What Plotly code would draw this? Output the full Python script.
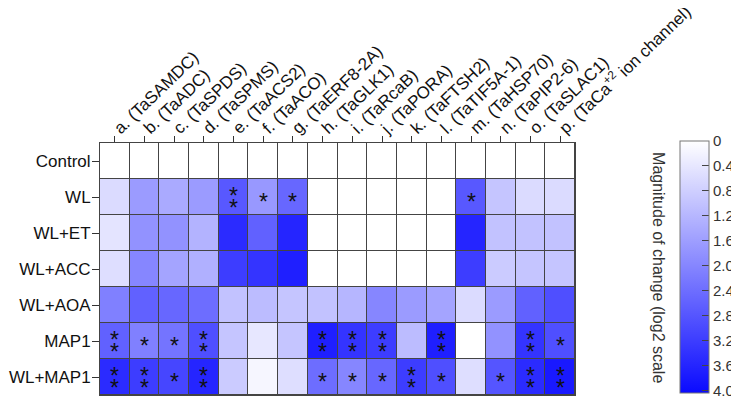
import plotly.graph_objects as go

genes = ["a. (TaSAMDC)", "b. (TaADC)", "c. (TaSPDS)", "d. (TaSPMS)", "e. (TaACS2)",
         "f. (TaACO)", "g. (TaERF8-2A)", "h. (TaGLK1)", "i. (TaRcaB)", "j. (TaPORA)",
         "k. (TaFTSH2)", "l. (TaTIF5A-1)", "m. (TaHSP70)", "n. (TaPIP2-6)", "o. (TaSLAC1)",
         "p. (TaCa<sup>+2</sup> ion channel)"]
treatments = ["Control", "WL", "WL+ET", "WL+ACC", "WL+AOA", "MAP1", "WL+MAP1"]

control = [0]*16
wl      = [0.6, 1.65, 1.4, 1.65, 2.75, 1.7, 2.5, 0, 0, 0, 0, 0, 2.75, 0.95, 0.6, 0.6]
wl_et   = [0.45, 1.8, 1.8, 1.25, 3.5, 2.6, 3.6, 0, 0, 0, 0, 0, 3.6, 1.0, 1.0, 1.0]
wl_acc  = [0.55, 2.0, 1.5, 1.3, 3.2, 3.35, 3.7, 0, 0, 0, 0, 0, 3.2, 0.85, 0.95, 0.95]
wl_aoa  = [2.1, 2.6, 2.5, 2.4, 1.0, 1.1, 0.95, 1.0, 1.2, 2.0, 1.65, 1.5, 0.6, 1.65, 2.6, 2.9]
map1    = [2.6, 2.1, 2.3, 2.9, 0.95, 0.4, 0.95, 3.7, 3.35, 3.2, 1.1, 3.7, 0, 1.8, 3.35, 2.9]
wl_map1 = [3.5, 3.2, 3.05, 3.6, 0.85, 0.15, 0.55, 2.4, 2.0, 2.5, 3.2, 2.9, 0.55, 2.8, 3.5, 3.8]

sig_control = [""]*16
sig_wl      = ["", "", "", "", "**", "*", "*", "", "", "", "", "", "*", "", "", ""]
sig_wl_et   = [""]*16
sig_wl_acc  = [""]*16
sig_wl_aoa  = [""]*16
sig_map1    = ["**", "*", "*", "**", "", "", "", "**", "**", "**", "", "**", "", "", "**", "*"]
sig_wl_map1 = ["**", "**", "*", "**", "", "", "", "*", "*", "*", "**", "*", "", "*", "**", "**"]

cbar_ticks = [0, 0.4, 0.8, 1.2, 1.6, 2.0, 2.4, 2.8, 3.2, 3.6, 4.0]
cbar_labels = ["0", "0.4", "0.8", "1.2", "1.6", "2.0", "2.4", "2.8", "3.2", "3.6", "4.0"]

values = [control, wl, wl_et, wl_acc, wl_aoa, map1, wl_map1]
sigs = [sig_control, sig_wl, sig_wl_et, sig_wl_acc, sig_wl_aoa, sig_map1, sig_wl_map1]

FONT = "Liberation Sans, Arial, sans-serif"

# negate so that the native colorbar shows 0 (white) at the top
zneg = [[-v for v in row] for row in values]

fig = go.Figure(go.Heatmap(
    z=zneg, x=genes, y=treatments,
    zmin=-4.04, zmax=0,
    colorscale=[[0, "rgb(10,10,255)"], [1, "rgb(255,255,255)"]],
    xgap=1, ygap=1,
    hovertemplate="%{y} / %{x}<extra></extra>",
    colorbar=dict(
        tickvals=[-t for t in cbar_ticks], ticktext=cbar_labels,
        thickness=29, thicknessmode="pixels",
        len=252, lenmode="pixels",
        x=1.2208, xanchor="left", y=1.008, yanchor="top",
        outlinewidth=1, outlinecolor="#777",
        ticks="inside", ticklen=7, tickcolor="#444",
        ticklabeloverflow="allow",
        tickfont=dict(family=FONT, size=15, color="#333"),
        ypad=0, xpad=0,
    ),
))

ann = []
for yi, t in enumerate(treatments):
    for xi, g in enumerate(genes):
        s = sigs[yi][xi]
        if s == "*":
            ann.append(dict(x=g, y=t, text="*", showarrow=False, yshift=-5,
                            font=dict(family=FONT, size=23, color="#111")))
        elif s == "**":
            for sh in (1, -11):
                ann.append(dict(x=g, y=t, text="*", showarrow=False, yshift=sh,
                                font=dict(family=FONT, size=23, color="#111")))

ann.append(dict(xref="paper", yref="paper", x=1.1746, y=0.504, xanchor="center", yanchor="middle",
                text="Magnitude of change (log2 scale", textangle=90,
                showarrow=False, font=dict(family=FONT, size=16, color="#333")))

# page body has an 8px margin, so the figure is 8px smaller and shifted
fig.update_layout(
    width=731, height=390,
    margin=dict(l=91.5, r=164, t=135, b=3, pad=0, autoexpand=False),
    paper_bgcolor="white", plot_bgcolor="#444",
    font=dict(family=FONT, size=17, color="#111"),
    annotations=ann,
    xaxis=dict(side="top", tickangle=-44, ticks="outside", ticklen=6, tickcolor="#333",
               showline=True, mirror=True, linecolor="#444", linewidth=1,
               showgrid=False, zeroline=False, automargin=False, ticklabelstandoff=-8,
               ticklabeloverflow="allow",
               tickfont=dict(family=FONT, size=17, color="#111")),
    yaxis=dict(autorange="reversed", ticks="outside", ticklen=7, tickcolor="#333",
               showline=True, mirror=True, linecolor="#444", linewidth=1,
               showgrid=False, zeroline=False, automargin=False, ticklabelstandoff=-2,
               tickfont=dict(family=FONT, size=17, color="#111")),
)

fig.write_html("out.html")
